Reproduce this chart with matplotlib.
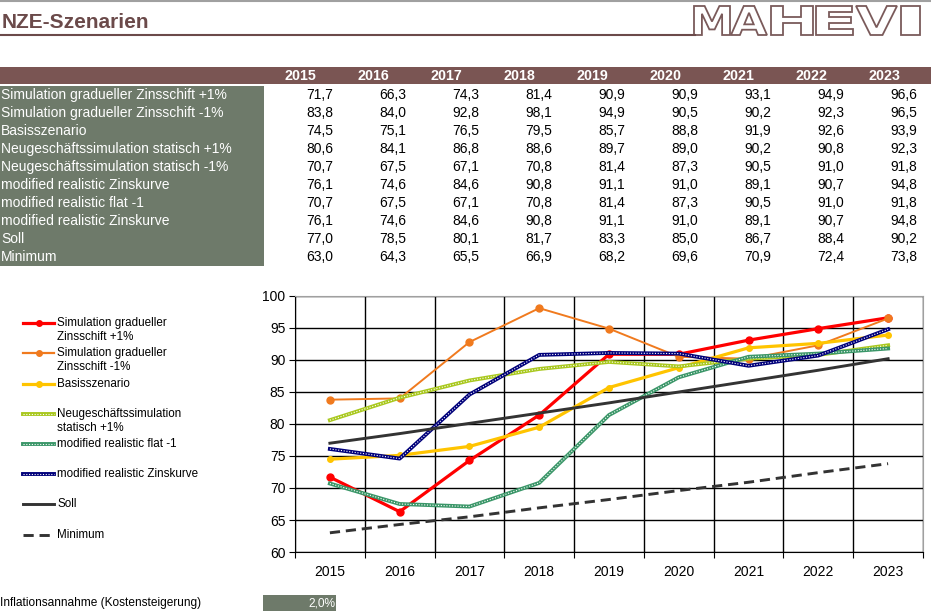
import matplotlib
matplotlib.use("Agg")
import matplotlib.pyplot as plt
from matplotlib.lines import Line2D
from matplotlib.patches import Rectangle, PathPatch
from matplotlib.textpath import TextPath
from matplotlib.font_manager import FontProperties
from matplotlib.transforms import Affine2D, IdentityTransform

plt.rcParams['font.family'] = ['Liberation Sans', 'DejaVu Sans']

years = [2015, 2016, 2017, 2018, 2019, 2020, 2021, 2022, 2023]

sim_plus = [71.7, 66.3, 74.3, 81.4, 90.9, 90.9, 93.1, 94.9, 96.6]
sim_minus = [83.8, 84.0, 92.8, 98.1, 94.9, 90.5, 90.2, 92.3, 96.5]
basis = [74.5, 75.1, 76.5, 79.5, 85.7, 88.8, 91.9, 92.6, 93.9]
neu_plus = [80.6, 84.1, 86.8, 88.6, 89.7, 89.0, 90.2, 90.8, 92.3]
neu_minus = [70.7, 67.5, 67.1, 70.8, 81.4, 87.3, 90.5, 91.0, 91.8]
mod_real = [76.1, 74.6, 84.6, 90.8, 91.1, 91.0, 89.1, 90.7, 94.8]
mod_flat = [70.7, 67.5, 67.1, 70.8, 81.4, 87.3, 90.5, 91.0, 91.8]
soll = [77.0, 78.5, 80.1, 81.7, 83.3, 85.0, 86.7, 88.4, 90.2]
minimum = [63.0, 64.3, 65.5, 66.9, 68.2, 69.6, 70.9, 72.4, 73.8]

row_labels = ["Simulation gradueller Zinsschift +1%",
              "Simulation gradueller Zinsschift -1%",
              "Basisszenario",
              "Neugeschäftssimulation statisch +1%",
              "Neugeschäftssimulation statisch -1%",
              "modified realistic Zinskurve",
              "modified realistic flat -1",
              "modified realistic Zinskurve",
              "Soll",
              "Minimum"]
rows = [sim_plus, sim_minus, basis, neu_plus, neu_minus,
        mod_real, mod_flat, mod_real, soll, minimum]

inflation = "2,0%"

W, H = 931, 611
BROWN = "#6b4a4a"
HEAD = "#7a5553"
GREYGREEN = "#6e7a6a"


def fx(x):
    return x / W


def fy(y):
    return 1 - y / H


fig = plt.figure(figsize=(W / 100, H / 100), dpi=100)

# top decoration
fig.add_artist(Line2D([0, 1], [fy(1), fy(1)], color="#a0a0a0", lw=1.5))
fig.text(fx(2), fy(23), "NZE-Szenarien", fontsize=15, fontweight="bold",
         color=BROWN, va="center", ha="left")
fig.add_artist(Line2D([0, fx(695)], [fy(35), fy(35)], color=BROWN, lw=1.5))

# logo letters stretched into their boxes (pixel coords)
logo_boxes = [("M", 694, 730), ("A", 731, 767), ("H", 771, 813),
              ("E", 816, 853), ("V", 856, 897), ("I", 901, 920)]
logo_font = FontProperties(family="DejaVu Sans", weight="bold")
for letter, x0, x1 in logo_boxes:
    tp = TextPath((0, 0), letter, size=1, prop=logo_font)
    ext = tp.get_extents()
    sx = (x1 - x0) / ext.width
    sy = (35 - 6) / ext.height
    tr = Affine2D().translate(-ext.x0, -ext.y0).scale(sx, sy).translate(x0, H - 35)
    patch = PathPatch(tr.transform_path(tp), facecolor="white",
                      edgecolor="#7a5a5a", lw=1.3, transform=IdentityTransform())
    fig.add_artist(patch)

# table
fig.add_artist(Rectangle((0, fy(84)), 1, (84 - 67) / H,
                         transform=fig.transFigure, color=HEAD, lw=0))
fig.add_artist(Rectangle((0, fy(266)), fx(264), (266 - 86) / H,
                         transform=fig.transFigure, color=GREYGREEN, lw=0))
for j, yr in enumerate(years):
    fig.text(fx(300 + 73 * j), fy(76), str(yr), fontsize=10.3,
             fontweight="bold", color="white", ha="center", va="center")
for i, (lab, vals) in enumerate(zip(row_labels, rows)):
    yc = 95 + 18 * i
    fig.text(fx(1), fy(yc), lab, fontsize=10, color="white",
             ha="left", va="center")
    for j, v in enumerate(vals):
        fig.text(fx(333 + 73 * j), fy(yc), f"{v:.1f}".replace(".", ","),
                 fontsize=10, color="black", ha="right", va="center")

# chart
ax = fig.add_axes([fx(295), fy(552), (923 - 295) / W, (552 - 296) / H])
x = list(range(len(years)))

ax.plot(x, sim_plus, color="#ff0000", lw=2.3, marker="o", ms=5, zorder=3)
ax.plot(x, sim_minus, color="#f07a1e", lw=1.4, marker="o", ms=5, zorder=3)
ax.plot(x, basis, color="#ffc400", lw=2.3, marker="o", ms=4, zorder=3)
ax.plot(x, neu_plus, color="#a9c81e", lw=2.8, zorder=3)
ax.plot(x, neu_plus, color="white", lw=0.8, ls=(0, (1, 1.5)), zorder=3)
ax.plot(x, mod_flat, color="#3a9668", lw=2.8, zorder=3)
ax.plot(x, mod_flat, color="white", lw=0.8, ls=(0, (1, 1.5)), zorder=3)
ax.plot(x, mod_real, color="#00007a", lw=2.8, zorder=3)
ax.plot(x, mod_real, color="white", lw=0.8, ls=(0, (1, 1.5)), zorder=3)
ax.plot(x, soll, color="#333333", lw=2.1, zorder=3)
ax.plot(x, minimum, color="#333333", lw=2.1, ls=(0, (3.5, 2)), zorder=3)

ax.set_xlim(-0.5, len(years) - 0.5)
ax.set_ylim(60, 100)
ax.set_yticks(range(60, 101, 5))
ax.set_xticks([i + 0.5 for i in range(-1, len(years))])
ax.set_xticklabels([])
ax.set_xticks(x, minor=True)
ax.set_xticklabels([str(y) for y in years], minor=True)
ax.tick_params(axis="x", which="major", length=4, direction="out", color="black")
ax.tick_params(axis="x", which="minor", length=0, pad=9, labelsize=10)
ax.tick_params(axis="y", length=4, direction="out", pad=3, labelsize=10)
ax.grid(True, which="major", color="black", lw=1)
ax.set_axisbelow(True)
for side in ["top", "right"]:
    ax.spines[side].set_color("#a0a0a0")
for side in ["left", "bottom"]:
    ax.spines[side].set_color("black")

# legend
legend_items = [
    (323, "Simulation gradueller\nZinsschift +1%", dict(color="#ff0000", lw=2.3, marker="o", ms=4), False),
    (353, "Simulation gradueller\nZinsschift -1%", dict(color="#f07a1e", lw=1.6, marker="o", ms=4), False),
    (384, "Basisszenario", dict(color="#ffc400", lw=2.3, marker="o", ms=4), False),
    (414, "Neugeschäftssimulation\nstatisch +1%", dict(color="#a9c81e", lw=2.8), True),
    (444, "modified realistic flat -1", dict(color="#3a9668", lw=2.8), True),
    (474, "modified realistic Zinskurve", dict(color="#00007a", lw=2.8), True),
    (504, "Soll", dict(color="#333333", lw=2.1), False),
    (535, "Minimum", dict(color="#333333", lw=2.1, ls=(0, (3.5, 2))), False),
]
hx = [fx(23), fx(38.5), fx(54)]
for yl, text, style, dotted in legend_items:
    fig.add_artist(Line2D(hx, [fy(yl)] * 3, markevery=[1], **style))
    if dotted:
        fig.add_artist(Line2D(hx, [fy(yl)] * 3, color="white",
                              lw=0.8, ls=(0, (1, 1.5))))
    fig.text(fx(57), fy(yl - 6), text, fontsize=8.4, ha="left", va="top",
             linespacing=1.2)

# inflation
fig.text(fx(0), fy(603), "Inflationsannahme (Kostensteigerung)", fontsize=8.6,
         ha="left", va="center")
fig.add_artist(Rectangle((fx(263), fy(611)), (336 - 263) / W, (611 - 595) / H,
                         transform=fig.transFigure, color=GREYGREEN, lw=0))
fig.text(fx(335), fy(603), inflation, fontsize=8.6, color="white",
         ha="right", va="center")

fig.savefig("out.png", dpi=100)
